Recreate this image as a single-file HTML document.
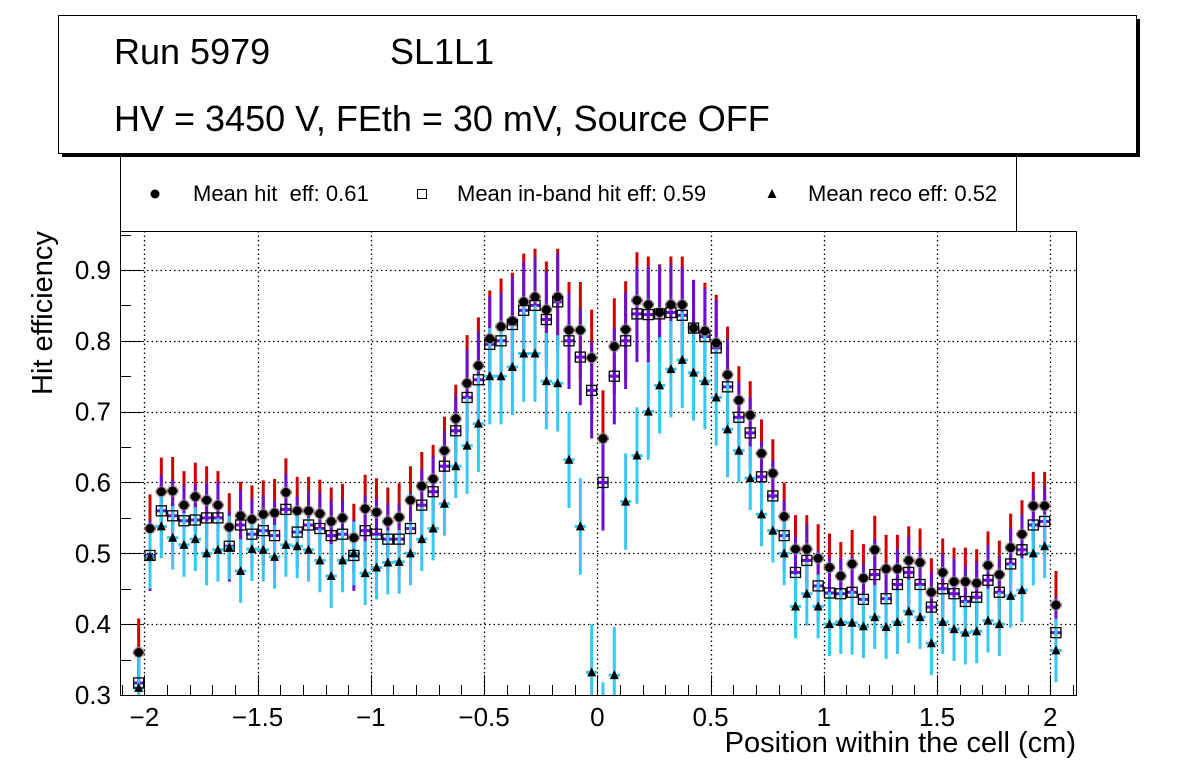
<!DOCTYPE html>
<html><head><meta charset="utf-8"><style>
body{margin:0;background:#fff;}
svg{display:block;font-family:"Liberation Sans",sans-serif;}
</style></head><body>
<svg id="chart" width="1196" height="772" viewBox="0 0 1196 772">
<rect x="62" y="19" width="1078" height="138" fill="#000"/>
<rect x="58.5" y="15.5" width="1078" height="138" fill="#fff" stroke="#000" stroke-width="1"/>
<text x="114" y="64" font-size="36">Run 5979</text>
<text x="390" y="64" font-size="36">SL1L1</text>
<text x="114" y="131" font-size="36">HV = 3450 V, FEth = 30 mV, Source OFF</text>
<g>
<path d="M120.5 157 V231 M1016.5 157 V231" stroke="#000" fill="none"/>
<circle cx="155" cy="194" r="4.5" fill="#000"/>
<text x="193" y="201" font-size="22" xml:space="preserve">Mean hit  eff: 0.61</text>
<rect x="417.5" y="189.5" width="9" height="9" fill="#fff" stroke="#000"/>
<text x="457" y="201" font-size="22">Mean in-band hit eff: 0.59</text>
<path d="M772 189 L776.5 198 L767.5 198Z" fill="#000"/>
<text x="808" y="201" font-size="22">Mean reco eff: 0.52</text>
</g>
<g id="grid"></g><g id="axes"></g><g id="marks"></g>
<rect x="120.5" y="231.5" width="956" height="464" fill="none" stroke="#000"/>
<text transform="translate(52,313) rotate(-90)" text-anchor="middle" font-size="29">Hit efficiency</text>
<text x="1076" y="752" text-anchor="end" font-size="29">Position within the cell (cm)</text>
</svg>
<script>
const positions=[-2.025,-1.975,-1.925,-1.875,-1.825,-1.775,-1.725,-1.675,-1.625,-1.575,-1.525,-1.475,-1.425,-1.375,-1.325,-1.275,-1.225,-1.175,-1.125,-1.075,-1.025,-0.975,-0.925,-0.875,-0.825,-0.775,-0.725,-0.675,-0.625,-0.575,-0.525,-0.475,-0.425,-0.375,-0.325,-0.275,-0.225,-0.175,-0.125,-0.075,-0.025,0.025,0.075,0.125,0.175,0.225,0.275,0.325,0.375,0.425,0.475,0.525,0.575,0.625,0.675,0.725,0.775,0.825,0.875,0.925,0.975,1.025,1.075,1.125,1.175,1.225,1.275,1.325,1.375,1.425,1.475,1.525,1.575,1.625,1.675,1.725,1.775,1.825,1.875,1.925,1.975,2.025];
const hitEff=[0.36,0.535,0.587,0.588,0.568,0.58,0.575,0.568,0.537,0.553,0.548,0.555,0.557,0.586,0.56,0.56,0.556,0.545,0.55,0.522,0.563,0.558,0.545,0.551,0.575,0.595,0.605,0.645,0.69,0.74,0.765,0.803,0.82,0.828,0.855,0.862,0.844,0.862,0.815,0.815,0.776,0.662,0.792,0.816,0.857,0.851,0.84,0.851,0.851,0.818,0.814,0.797,0.752,0.716,0.695,0.641,0.613,0.552,0.506,0.506,0.493,0.48,0.468,0.485,0.465,0.505,0.478,0.478,0.49,0.487,0.445,0.473,0.46,0.46,0.458,0.483,0.47,0.508,0.527,0.567,0.567,0.427];
const inbandEff=[0.317,0.497,0.56,0.553,0.546,0.547,0.55,0.55,0.51,0.54,0.527,0.532,0.525,0.562,0.53,0.54,0.535,0.525,0.527,0.497,0.532,0.527,0.52,0.52,0.535,0.568,0.587,0.623,0.673,0.72,0.745,0.795,0.8,0.823,0.843,0.85,0.83,0.855,0.8,0.777,0.73,0.6,0.75,0.8,0.838,0.837,0.838,0.84,0.836,0.818,0.806,0.79,0.735,0.692,0.67,0.608,0.581,0.525,0.473,0.49,0.454,0.444,0.443,0.445,0.435,0.47,0.436,0.456,0.473,0.456,0.424,0.45,0.443,0.432,0.438,0.462,0.445,0.485,0.505,0.54,0.545,0.388];
const recoEff=[0.31,0.495,0.538,0.522,0.512,0.52,0.5,0.505,0.508,0.475,0.506,0.505,0.495,0.512,0.51,0.505,0.49,0.468,0.49,0.5,0.472,0.48,0.487,0.488,0.5,0.52,0.535,0.57,0.623,0.652,0.683,0.75,0.75,0.763,0.782,0.782,0.743,0.74,0.632,0.538,0.332,0.25,0.328,0.573,0.638,0.7,0.737,0.76,0.773,0.755,0.743,0.72,0.675,0.645,0.606,0.555,0.532,0.5,0.425,0.443,0.425,0.4,0.403,0.402,0.397,0.41,0.396,0.403,0.418,0.41,0.373,0.403,0.393,0.388,0.39,0.405,0.4,0.44,0.448,0.5,0.51,0.363];
const hitErr=0.048, inbandErr=0.05, recoErr=0.045, centerErr=0.068;
const xTicks=[-2,-1.5,-1,-0.5,0,0.5,1,1.5,2];
const xTickLabels=["\u22122","\u22121.5","\u22121","\u22120.5","0","0.5","1","1.5","2"];
const yTicks=[0.3,0.4,0.5,0.6,0.7,0.8,0.9];
const yTickLabels=["0.3","0.4","0.5","0.6","0.7","0.8","0.9"];

const L=120,R=1076,T=231,B=695,X0=-2.1075,X1=2.1135,Y0=0.3,Y1=0.955;
const sx=v=>L+(v-X0)/(X1-X0)*(R-L);
const sy=v=>B-(v-Y0)/(Y1-Y0)*(B-T);
const NS='http://www.w3.org/2000/svg';
function mk(tag,attrs,parent){const e=document.createElementNS(NS,tag);for(const k in attrs)e.setAttribute(k,attrs[k]);parent.appendChild(e);return e;}
const grid=document.getElementById('grid'),axes=document.getElementById('axes'),marks=document.getElementById('marks');
mk('clipPath',{id:'clip'},document.getElementById('chart')).appendChild(document.createElementNS(NS,'rect'));
const cr=document.querySelector('#clip rect');cr.setAttribute('x',L);cr.setAttribute('y',T);cr.setAttribute('width',R-L);cr.setAttribute('height',B-T);
marks.setAttribute('clip-path','url(#clip)');

xTicks.forEach((v,i)=>{const x=Math.round(sx(v))+0.5;
 const g=mk('line',{x1:x,x2:x,y1:T,y2:B,stroke:'#000','stroke-dasharray':'1.5,3','stroke-width':1.3},grid);
 
 
 mk('line',{x1:x,x2:x,y1:B,y2:B-20,stroke:'#000'},axes);
 const t=mk('text',{x:sx(v),y:726,'text-anchor':'middle','font-size':26},axes);t.textContent=xTickLabels[i];
 
 
});
for(let k=-21;k<=21;k++){const v=k/10;if(Math.abs(v*2-Math.round(v*2))<1e-6)continue;const x=Math.round(sx(v))+0.5;mk('line',{x1:x,x2:x,y1:B,y2:B-10,stroke:'#000'},axes);}
yTicks.forEach((v,i)=>{const y=Math.round(sy(v))+0.5;
 if(i>0){const g=mk('line',{x1:L,x2:R,y1:y,y2:y,stroke:'#000','stroke-dasharray':'1.5,3','stroke-width':1.3},grid);
 
 }
 mk('line',{x1:L,x2:L+22,y1:y,y2:y,stroke:'#000'},axes);
 const t=mk('text',{x:111,y:sy(v)+9,'text-anchor':'end','font-size':26},axes);t.textContent=yTickLabels[i];
 
 
});
for(let v=0.35;v<0.955;v+=0.1){const y=Math.round(sy(v))+0.5;mk('line',{x1:L,x2:L+11,y1:y,y2:y,stroke:'#000'},axes);}

function errs(vals,err,color,name){
 vals.forEach((v,i)=>{const p=positions[i];const e=Math.abs(p)<0.6?Math.max(err,centerErr):err;const x=sx(p);
  const l=mk('line',{x1:x,x2:x,y1:sy(v-e),y2:sy(v+e),stroke:color,'stroke-width':3},marks);
  
  
  mk('line',{x1:sx(p-0.025),x2:sx(p+0.025),y1:sy(v),y2:sy(v),stroke:color,'stroke-width':3},marks);
 });
}
errs(hitEff,hitErr,'#d00000','hit');
errs(inbandEff,inbandErr,'#6a0fd0','inband');
errs(recoEff,recoErr,'#33c8f5','reco');
hitEff.forEach((v,i)=>{
 mk('circle',{cx:sx(positions[i]),cy:sy(v),r:6,fill:'#888',opacity:0.6},marks);
 const c=mk('circle',{cx:sx(positions[i]),cy:sy(v),r:4.5,fill:'#000'},marks);
 
 
});
inbandEff.forEach((v,i)=>{const x=sx(positions[i]),y=sy(v);
 const s=mk('rect',{x:x-5,y:y-5,width:10,height:10,fill:'none',stroke:'#000','stroke-width':1.3},marks);
 
 
});
recoEff.forEach((v,i)=>{const x=sx(positions[i]),y=sy(v);
 const t=mk('path',{d:`M${x} ${y-5} L${x+4.5} ${y+4} L${x-4.5} ${y+4}Z`,fill:'#000'},marks);
 
 
});
</script>
</body></html>
